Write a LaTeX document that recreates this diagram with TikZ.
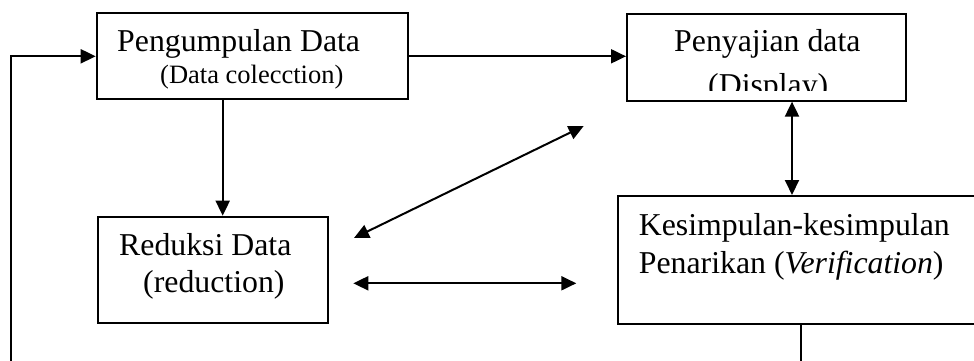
\documentclass[tikz,border=0pt]{standalone}
\usepackage{fontspec}
\setmainfont{Liberation Serif}[ItalicFont={Liberation Serif Italic},BoldFont={Liberation Serif Bold}]
\usetikzlibrary{arrows.meta}
\begin{document}
\begin{tikzpicture}[x=1pt,y=-1pt,
  box/.style={draw,line width=2pt,rectangle,inner sep=0pt},
  lbl/.style={inner sep=0pt,anchor=base west,font=\fontsize{31.8}{38}\selectfont},
  lblsmall/.style={inner sep=0pt,anchor=base west,font=\fontsize{26.5}{32}\selectfont},
  arr/.style={line width=2pt,-{Triangle[length=15pt,width=14pt]}},
  darr/.style={line width=2pt,{Triangle[length=15pt,width=14pt]}-{Triangle[length=15pt,width=14pt]}},
  ln/.style={line width=2pt}]
\useasboundingbox (0,0) rectangle (974,361);
\clip (0,0) rectangle (974,361);
% boxes
\node[box,minimum width=311pt,minimum height=86pt] (b1) at (252.2,56.3) {};
\node[box,minimum width=230pt,minimum height=106.6pt] (b2) at (213,270) {};
\node[box,minimum width=279pt,minimum height=86.7pt] (b3) at (766.5,57.3) {};
\node[box,minimum width=372.3pt,minimum height=128pt] (b4) at (803.8,260) {};
% texts
\node[lbl] (t1) at (117,52) {Pengumpulan Data};
\node[lblsmall] (t2) at (160,83) {(Data colecction)};
\node[lbl] (t3) at (119,255) {Reduksi Data};
\node[lbl] (t4) at (143,292) {(reduction)};
\node[lbl] (t5) at (674,52) {Penyajian data};
\begin{scope}
\clip (620,60) rectangle (910,90);
\node[lbl] (t6) at (708,95) {(Display)};
\end{scope}
\node[lbl] (t7) at (638.7,235) {Kesimpulan-kesimpulan};
\node[lbl] (t8) at (638.7,273) {Penarikan (\textit{Verification})};
% coordinates
\coordinate (cdown) at (222.7,0);
\coordinate (cvert) at (792,0);
\coordinate (cout) at (801,0);
\coordinate (lb) at (11,380);
\coordinate (bot) at (801,380);
\coordinate (dl) at (354,238);
\coordinate (dr) at (583.7,126);
\coordinate (hl) at (353.3,283.3);
\coordinate (hr) at (576.3,283.3);
% connectors
\draw[arr] (b1.east) -- (b3.west |- b1.east);
\draw[arr] (b1.south -| cdown) -- (b2.north -| cdown);
\draw[darr] (b3.south -| cvert) -- (b4.north -| cvert);
\draw[darr] (dl) -- (dr);
\draw[darr] (hl) -- (hr);
\draw[ln] (b4.south -| cout) -- (bot);
\draw[arr] (lb) |- (b1.west);
\end{tikzpicture}
\end{document}
